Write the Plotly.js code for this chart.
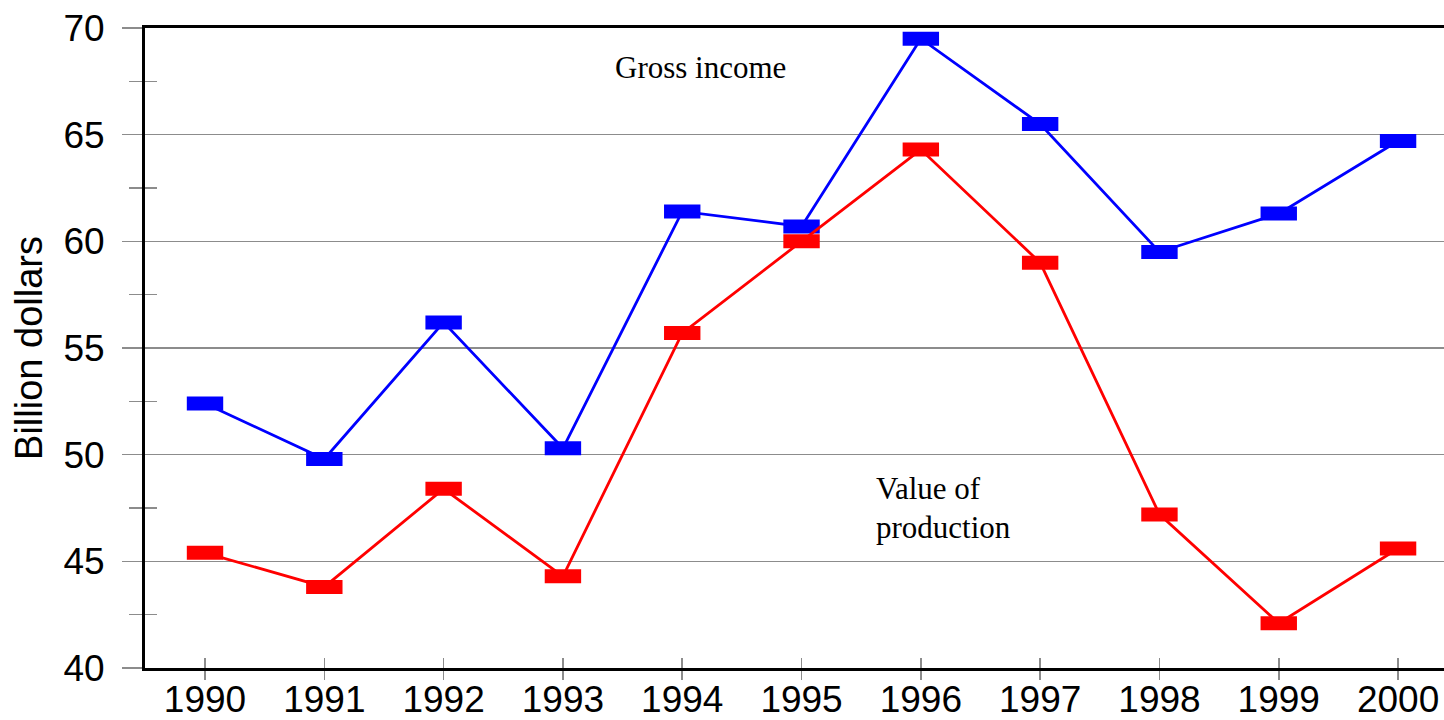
<!DOCTYPE html>
<html>
<head>
<meta charset="utf-8">
<script src="https://cdn.plot.ly/plotly-3.0.1.min.js"></script>
<style>
html,body{margin:0;padding:0;background:#fff;}
#chart{width:1444px;height:720px;}
</style>
</head>
<body>
<div id="chart"></div>
<script>
const years = [1990, 1991, 1992, 1993, 1994, 1995, 1996, 1997, 1998, 1999, 2000];
const grossIncome = [52.4, 49.8, 56.2, 50.3, 61.4, 60.7, 69.5, 65.5, 59.5, 61.3, 64.7];
const valueOfProduction = [45.4, 43.8, 48.4, 44.3, 55.7, 60.0, 64.3, 59.0, 47.2, 42.1, 45.6];
const yTicks = [40, 45, 50, 55, 60, 65, 70];
const seriesNames = ['Gross income', 'Value of production'];

function series(y, color, name) {
  return {
    x: years, y: y, name: name, type: 'scatter', mode: 'lines+markers',
    line: {color: color, width: 2.8},
    marker: {symbol: 'line-ew', size: 26, color: color, line: {color: color, width: 14}},
    cliponaxis: false, showlegend: false, hoverinfo: 'x+y'
  };
}

const data = [
  series(grossIncome, '#0000FF', seriesNames[0]),
  series(valueOfProduction, '#FF0000', seriesNames[1])
];

const xr = [1989.497, 2000.385];
const yr = [40, 70];
const tickGray = '#8c8c8c';
const sans = 'Liberation Sans, Arial, sans-serif';
const serif = 'Liberation Serif, Times New Roman, serif';

const layout = {
  width: 1444, height: 720,
  margin: {l: 145, r: 0, t: 28, b: 52},
  paper_bgcolor: '#fff', plot_bgcolor: '#fff',
  showlegend: false,
  xaxis: {
    range: xr, tickvals: years, ticktext: years.map(String),
    ticks: 'outside', ticklen: 9, tickwidth: 1.5, tickcolor: tickGray,
    showline: true, linecolor: '#000', linewidth: 3, mirror: true,
    showgrid: false, zeroline: false,
    tickfont: {family: sans, size: 37, color: '#000'},
    ticklabelstandoff: -12
  },
  xaxis2: {
    range: xr, tickvals: years, overlaying: 'x', anchor: 'y', side: 'bottom',
    ticks: 'inside', ticklen: 10, tickwidth: 1.5, tickcolor: tickGray,
    showticklabels: false, showline: false, showgrid: false, zeroline: false
  },
  yaxis: {
    range: yr, tickvals: yTicks,
    ticks: 'outside', ticklen: 20, tickwidth: 1.5, tickcolor: tickGray,
    minor: {dtick: 2.5, tick0: 40, ticks: 'outside', ticklen: 13, tickwidth: 1.5, tickcolor: tickGray, showgrid: false},
    showline: true, linecolor: '#000', linewidth: 3, mirror: false,
    showgrid: true, gridcolor: tickGray, gridwidth: 1.5, zeroline: false,
    tickfont: {family: sans, size: 37, color: '#000'},
    ticklabelstandoff: 10,
    title: {text: 'Billion dollars', font: {family: sans, size: 38, color: '#000'}, standoff: 10}
  },
  yaxis2: {
    range: yr, tickvals: yTicks, overlaying: 'y', anchor: 'x', side: 'left',
    ticks: 'inside', ticklen: 18, tickwidth: 1.5, tickcolor: tickGray,
    minor: {dtick: 2.5, tick0: 40, ticks: 'inside', ticklen: 12, tickwidth: 1.5, tickcolor: tickGray, showgrid: false},
    showticklabels: false, showline: false, showgrid: false, zeroline: false
  },
  annotations: [
    {text: seriesNames[0], xref: 'paper', yref: 'paper', x: 0.428, y: 0.938,
     xanchor: 'center', yanchor: 'middle', showarrow: false,
     font: {family: serif, size: 31, color: '#000'}},
    {text: 'Value of', xref: 'paper', yref: 'paper', x: 0.561, y: 0.28,
     xanchor: 'left', yanchor: 'middle', showarrow: false,
     font: {family: serif, size: 31, color: '#000'}},
    {text: 'production', xref: 'paper', yref: 'paper', x: 0.561, y: 0.219,
     xanchor: 'left', yanchor: 'middle', showarrow: false,
     font: {family: serif, size: 31, color: '#000'}}
  ]
};

// invisible point so the overlay tick axes are drawn
data.push({x: [years[0]], y: [yTicks[0]], xaxis: 'x2', yaxis: 'y2', mode: 'markers',
  marker: {opacity: 0}, showlegend: false, hoverinfo: 'skip'});

Plotly.newPlot('chart', data, layout, {displayModeBar: false, staticPlot: true});
</script>
</body>
</html>
